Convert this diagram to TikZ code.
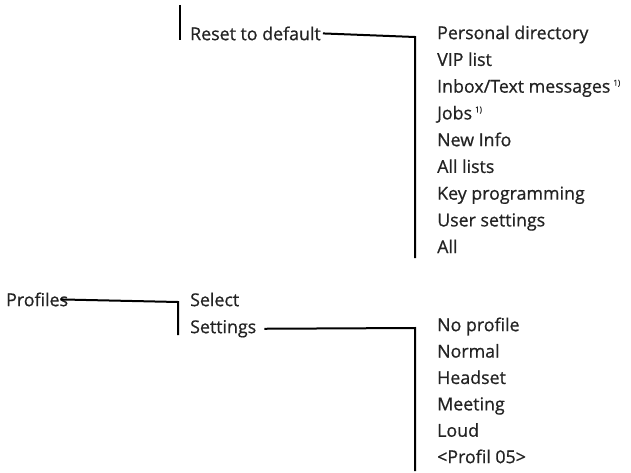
\documentclass[tikz,border=0pt]{standalone}
\usepackage{fontspec}
\newfontfamily\menufont{Open Sans}[FakeBold=0.7]
\usepackage{xcolor}
\usepackage{tikz}
\usetikzlibrary{positioning, calc}
\definecolor{menutext}{RGB}{35, 35, 35}
\newcommand{\fnmark}{\,\raisebox{0.75ex}{\fontsize{8}{9}\selectfont 1)}}

\begin{document}
\begin{tikzpicture}[
    x=1pt, y=-1pt,
    entry/.style={anchor=mid west, inner sep=0pt, text=menutext, font=\menufont\fontsize{17.8}{20}\selectfont},
    link/.style={line width=2pt, color=black, line join=miter}
]
    \useasboundingbox (0,0) rectangle (631,473);

    % first branch
    \node[entry] (reset) at (190,38) {Reset to default};
    \foreach \txt [count=\i] in {Personal directory, VIP list, Inbox/Text messages\fnmark, Jobs\fnmark, New Info, All lists, Key programming, User settings, All}
        \node[entry] (item\i) at (437,{37+26.75*(\i-1)}) {\txt};

    % second branch
    \node[entry] (profiles) at (6,304) {Profiles};
    \node[entry] (select) at (190,304) {Select};
    \node[entry] (settings) at (190,331) {Settings};
    \foreach \txt [count=\i] in {No profile, Normal, Headset, Meeting, Loud, {<Profil 05>}}
        \node[entry] (prof\i) at (437,{329+26.4*(\i-1)}) {\txt};

    \coordinate (stubtop) at (180,5);
    \coordinate (stubbot) at (180,40);
    \coordinate (resetjoin) at (415,37);
    \coordinate (resetend) at (415,258);
    \coordinate (profjoin) at (178,302);
    \coordinate (profend) at (178,335);
    \coordinate (setjoin) at (415,328);
    \coordinate (setend) at (415,471);

    \draw[link] (stubtop) -- (stubbot);
    \draw[link] ([xshift=2pt]reset.east) -- (resetjoin) -- (resetend);
    \draw[link] ([xshift=-8pt]profiles.east) -- (profjoin) -- (profend);
    \draw[link] ([xshift=8pt]settings.east) -- (setjoin) -- (setend);
\end{tikzpicture}
\end{document}
